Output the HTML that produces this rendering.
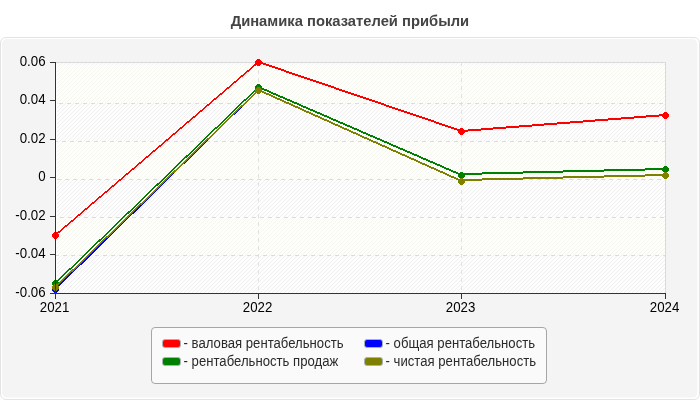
<!DOCTYPE html>
<html><head><meta charset="utf-8"><title>chart</title>
<style>
html,body{margin:0;padding:0;background:#fff;}
body{width:700px;height:400px;overflow:hidden;position:relative;font-family:"Liberation Sans",sans-serif;}
svg{position:absolute;left:0;top:0;will-change:transform;transform:translateZ(0);}
text{font-family:"Liberation Sans",sans-serif;}
</style></head><body>
<svg width="700" height="400" viewBox="0 0 700 400">
<defs>
<pattern id="sy" width="4" height="4" patternUnits="userSpaceOnUse" x="0" y="0">
<g fill="#F6F6F1" shape-rendering="crispEdges"><rect x="0" y="0" width="1" height="1"/><rect x="3" y="1" width="1" height="1"/><rect x="2" y="2" width="1" height="1"/><rect x="1" y="3" width="1" height="1"/></g>
</pattern>
<pattern id="sw" width="4" height="4" patternUnits="userSpaceOnUse" x="0" y="0">
<g fill="#F0F0F0" shape-rendering="crispEdges"><rect x="0" y="0" width="1" height="1"/><rect x="3" y="1" width="1" height="1"/><rect x="2" y="2" width="1" height="1"/><rect x="1" y="3" width="1" height="1"/></g>
</pattern>
<clipPath id="cp"><rect x="56" y="62" width="610" height="231"/></clipPath>
</defs>

<rect x="0.5" y="37.5" width="699" height="362" rx="5.5" ry="5.5" fill="#fff" stroke="#E3E3E3"/>
<rect x="2" y="39" width="695.4" height="358.6" rx="5" ry="5" fill="#F4F4F4"/>
<rect x="56" y="62" width="610" height="231" fill="#FEFEFA"/>
<rect x="57" y="63" width="608" height="230" fill="url(#sy)"/>
<rect x="57" y="255" width="608" height="38" fill="#FDFDFD"/>
<rect x="57" y="255" width="608" height="38" fill="url(#sw)"/>
<rect x="57" y="179" width="608" height="38" fill="#FDFDFD"/>
<rect x="57" y="179" width="608" height="38" fill="url(#sw)"/>
<rect x="57" y="103" width="608" height="38" fill="#FDFDFD"/>
<rect x="57" y="103" width="608" height="38" fill="url(#sw)"/>
<rect x="57" y="63" width="608" height="2" fill="#FDFDFD"/>
<rect x="57" y="63" width="608" height="2" fill="url(#sw)"/>
<rect x="56" y="63" width="1" height="230" fill="#FFFFFF"/>
<rect x="56" y="62" width="610" height="1" fill="#DADADA"/>
<rect x="665" y="62" width="1" height="232" fill="#DADADA"/>
<g clip-path="url(#cp)" stroke="#DCDCDC" stroke-width="1" stroke-dasharray="4,4" shape-rendering="crispEdges">
<line x1="47" y1="255.5" x2="665" y2="255.5"/>
<line x1="52" y1="217.5" x2="665" y2="217.5"/>
<line x1="49" y1="179.5" x2="665" y2="179.5"/>
<line x1="54" y1="141.5" x2="665" y2="141.5"/>
<line x1="51" y1="103.5" x2="665" y2="103.5"/>
<line x1="258.5" y1="62" x2="258.5" y2="293" stroke="#E1E1E1"/>
<line x1="461.5" y1="62" x2="461.5" y2="293" stroke="#E1E1E1"/>
</g>
<polygon points="55.5,234 258.5,61 258.5,63 55.5,236" fill="#FF0000" shape-rendering="crispEdges"/>
<polygon points="258.5,61 461.5,130 461.5,132 258.5,63" fill="#FF0000" shape-rendering="crispEdges"/>
<polygon points="461.5,130 665.5,114 665.5,116 461.5,132" fill="#FF0000" shape-rendering="crispEdges"/>
<path transform="translate(55.5,235.5)" d="M-1.5,-3.5h3v1h1v1h1v3h-1v1h-1v1h-3v-1h-1v-1h-1v-3h1v-1h1z" fill="#FF0000" shape-rendering="crispEdges"/>
<path transform="translate(258.5,62.5)" d="M-1.5,-3.5h3v1h1v1h1v3h-1v1h-1v1h-3v-1h-1v-1h-1v-3h1v-1h1z" fill="#FF0000" shape-rendering="crispEdges"/>
<path transform="translate(461.5,131.5)" d="M-1.5,-3.5h3v1h1v1h1v3h-1v1h-1v1h-3v-1h-1v-1h-1v-3h1v-1h1z" fill="#FF0000" shape-rendering="crispEdges"/>
<path transform="translate(665.5,115.5)" d="M-1.5,-3.5h3v1h1v1h1v3h-1v1h-1v1h-3v-1h-1v-1h-1v-3h1v-1h1z" fill="#FF0000" shape-rendering="crispEdges"/>
<polygon points="55.5,282 258.5,86 258.5,88 55.5,284" fill="#008000" shape-rendering="crispEdges"/>
<polygon points="258.5,86 461.5,174 461.5,176 258.5,88" fill="#008000" shape-rendering="crispEdges"/>
<polygon points="461.5,173 665.5,168 665.5,170 461.5,175" fill="#008000" shape-rendering="crispEdges"/>
<path transform="translate(55.5,283.5)" d="M-1.5,-3.5h3v1h1v1h1v3h-1v1h-1v1h-3v-1h-1v-1h-1v-3h1v-1h1z" fill="#008000" shape-rendering="crispEdges"/>
<path transform="translate(258.5,87.5)" d="M-1.5,-3.5h3v1h1v1h1v3h-1v1h-1v1h-3v-1h-1v-1h-1v-3h1v-1h1z" fill="#008000" shape-rendering="crispEdges"/>
<path transform="translate(461.5,175.5)" d="M-1.5,-3.5h3v1h1v1h1v3h-1v1h-1v1h-3v-1h-1v-1h-1v-3h1v-1h1z" fill="#008000" shape-rendering="crispEdges"/>
<path transform="translate(665.5,169.5)" d="M-1.5,-3.5h3v1h1v1h1v3h-1v1h-1v1h-3v-1h-1v-1h-1v-3h1v-1h1z" fill="#008000" shape-rendering="crispEdges"/>
<polygon points="55.5,288 258.5,89 258.5,91 55.5,290" fill="#0000FF" shape-rendering="crispEdges"/>
<path transform="translate(55.5,289.5)" d="M-1.5,-3.5h3v1h1v1h1v3h-1v1h-1v1h-3v-1h-1v-1h-1v-3h1v-1h1z" fill="#0000FF" shape-rendering="crispEdges"/>
<polygon points="55.5,286 258.5,89 258.5,91 55.5,288" fill="#808000" shape-rendering="crispEdges"/>
<polygon points="258.5,89 461.5,180 461.5,182 258.5,91" fill="#808000" shape-rendering="crispEdges"/>
<polygon points="461.5,179 665.5,174 665.5,176 461.5,181" fill="#808000" shape-rendering="crispEdges"/>
<path transform="translate(55.5,287.5)" d="M-1.5,-3.5h3v1h1v1h1v3h-1v1h-1v1h-3v-1h-1v-1h-1v-3h1v-1h1z" fill="#808000" shape-rendering="crispEdges"/>
<path transform="translate(258.5,90.5)" d="M-1.5,-3.5h3v1h1v1h1v3h-1v1h-1v1h-3v-1h-1v-1h-1v-3h1v-1h1z" fill="#808000" shape-rendering="crispEdges"/>
<path transform="translate(461.5,181.5)" d="M-1.5,-3.5h3v1h1v1h1v3h-1v1h-1v1h-3v-1h-1v-1h-1v-3h1v-1h1z" fill="#808000" shape-rendering="crispEdges"/>
<path transform="translate(665.5,175.5)" d="M-1.5,-3.5h3v1h1v1h1v3h-1v1h-1v1h-3v-1h-1v-1h-1v-3h1v-1h1z" fill="#808000" shape-rendering="crispEdges"/>
<g fill="#333333" shape-rendering="crispEdges">
<rect x="55" y="62" width="1" height="237"/>
<rect x="50" y="293" width="616" height="1"/>
<rect x="50" y="62" width="5" height="1"/>
<rect x="50" y="100" width="5" height="1"/>
<rect x="50" y="139" width="5" height="1"/>
<rect x="50" y="177" width="5" height="1"/>
<rect x="50" y="216" width="5" height="1"/>
<rect x="50" y="254" width="5" height="1"/>
<rect x="258" y="294" width="1" height="5"/>
<rect x="461" y="294" width="1" height="5"/>
<rect x="665" y="294" width="1" height="5"/>
</g>
<g font-size="14" fill="#000">
<text transform="translate(45.6,66) scale(0.95,1)" text-anchor="end">0.06</text>
<text transform="translate(45.6,104) scale(0.95,1)" text-anchor="end">0.04</text>
<text transform="translate(45.6,143) scale(0.95,1)" text-anchor="end">0.02</text>
<text transform="translate(45.6,181) scale(0.95,1)" text-anchor="end">0</text>
<text transform="translate(45.6,220) scale(0.95,1)" text-anchor="end">-0.02</text>
<text transform="translate(45.6,258) scale(0.95,1)" text-anchor="end">-0.04</text>
<text transform="translate(45.6,297) scale(0.95,1)" text-anchor="end">-0.06</text>
<text transform="translate(54.6,312) scale(0.95,1)" text-anchor="middle">2021</text>
<text transform="translate(257.6,312) scale(0.95,1)" text-anchor="middle">2022</text>
<text transform="translate(460.6,312) scale(0.95,1)" text-anchor="middle">2023</text>
<text transform="translate(664.6,312) scale(0.95,1)" text-anchor="middle">2024</text>
</g>
<text transform="translate(349.9,26) scale(0.972,1)" font-size="15.2" font-weight="bold" text-anchor="middle" fill="#444">Динамика показателей прибыли</text>
<rect x="151.5" y="327.5" width="395" height="56" rx="3.5" ry="3.5" fill="#FAFAFA" stroke="#A6A6A6"/>
<g font-size="13.9" fill="#2A2A2A">
<rect x="162.5" y="339.5" width="18" height="8" rx="2.5" ry="2.5" fill="#FF0000" stroke="#A8B4B4"/>
<text transform="translate(183.6,348) scale(0.946,1)">- валовая рентабельность</text>
<rect x="162.5" y="357.5" width="18" height="8" rx="2.5" ry="2.5" fill="#008000" stroke="#A8B4B4"/>
<text transform="translate(183.6,366) scale(0.946,1)">- рентабельность продаж</text>
<rect x="364.5" y="339.5" width="18" height="8" rx="2.5" ry="2.5" fill="#0000FF" stroke="#A8B4B4"/>
<text transform="translate(385.6,348) scale(0.946,1)">- общая рентабельность</text>
<rect x="364.5" y="357.5" width="18" height="8" rx="2.5" ry="2.5" fill="#808000" stroke="#A8B4B4"/>
<text transform="translate(385.6,366) scale(0.946,1)">- чистая рентабельность</text>
</g>
</svg></body></html>
